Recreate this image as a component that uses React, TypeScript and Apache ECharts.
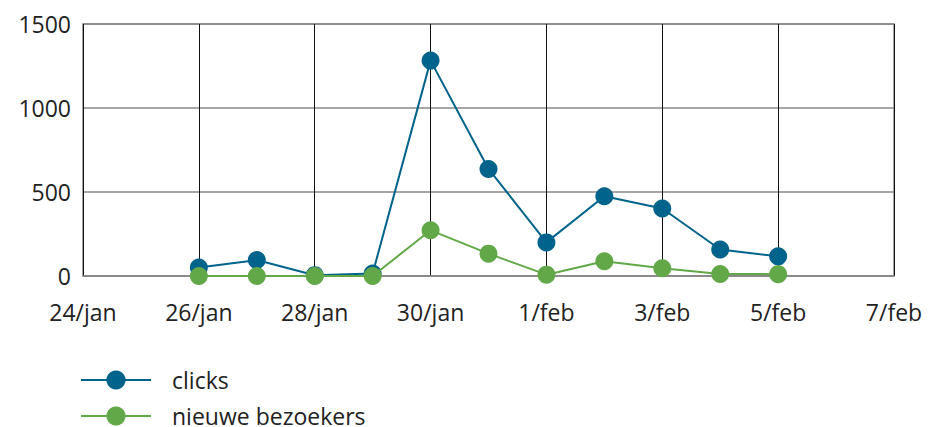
import React, { useEffect, useRef } from "react";
import * as echarts from "echarts";

const dates = [
  "24/jan", "25/jan", "26/jan", "27/jan", "28/jan", "29/jan", "30/jan", "31/jan",
  "1/feb", "2/feb", "3/feb", "4/feb", "5/feb", "6/feb", "7/feb",
];
const clicks = [null, null, 50, 95, 5, 15, 1282, 637, 200, 475, 402, 158, 117, null, null];
const nieuweBezoekers = [null, null, 0, 0, 0, 0, 272, 133, 8, 88, 46, 12, 11, null, null];
const yTicks = { min: 0, max: 1500, interval: 500 };

const FONT = "Open Sans";

export default function App() {
  const ref = useRef<HTMLDivElement>(null);
  useEffect(() => {
    if (!ref.current) return;
    const chart = echarts.init(ref.current, null, { renderer: "svg" });
    chart.setOption({
      animation: false,
      textStyle: { fontFamily: FONT },
      grid: {
        left: 83,
        right: 58,
        top: 24,
        bottom: 151,
        show: true,
        borderColor: "#888",
        borderWidth: 1.5,
      },
      xAxis: {
        type: "category",
        data: dates,
        boundaryGap: false,
        axisLine: { show: true, lineStyle: { color: "#888", width: 1.5 } },
        axisTick: { show: false },
        axisLabel: {
          interval: 1,
          color: "#222",
          fontSize: 23,
          fontFamily: FONT,
          margin: 24,
        },
        splitLine: { show: true, interval: 1, lineStyle: { color: "#111", width: 1 } },
      },
      yAxis: {
        type: "value",
        min: yTicks.min,
        max: yTicks.max,
        interval: yTicks.interval,
        axisLine: { show: false },
        axisTick: { show: false },
        axisLabel: {
          color: "#222",
          fontSize: 23,
          fontFamily: FONT,
          margin: 12,
          formatter: (v: number) => String(v),
        },
        splitLine: { show: true, lineStyle: { color: "#888", width: 1.5 } },
      },
      legend: {
        orient: "vertical",
        left: 80,
        top: 368,
        padding: 0,
        height: 120,
        itemWidth: 70,
        itemHeight: 24,
        itemGap: 12,
        textStyle: { fontSize: 23, lineHeight: 24, color: "#222", fontFamily: FONT, padding: [0, 0, 0, 16] },
        data: ["clicks", "nieuwe bezoekers"],
      },
      series: [
        {
          name: "clicks",
          type: "line",
          data: clicks,
          symbol: "circle",
          symbolSize: 18,
          lineStyle: { color: "#00638C", width: 2 },
          itemStyle: { color: "#00638C" },
          z: 2,
        },
        {
          name: "nieuwe bezoekers",
          type: "line",
          data: nieuweBezoekers,
          symbol: "circle",
          symbolSize: 18,
          lineStyle: { color: "#63A848", width: 2 },
          itemStyle: { color: "#63A848" },
          z: 3,
        },
      ],
    });
    return () => chart.dispose();
  }, []);
  return <div ref={ref} style={{ width: 952, height: 427, position: "absolute", left: 0, top: 0 }} />;
}
